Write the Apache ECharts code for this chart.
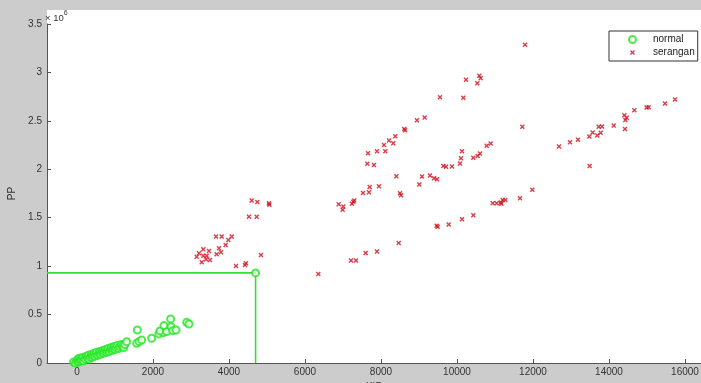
<!DOCTYPE html>
<html>
<head>
<meta charset="utf-8">
<script src="https://cdn.jsdelivr.net/npm/echarts@6/dist/echarts.min.js"></script>
<style>
html,body{margin:0;padding:0;background:#cccccc;}
#chart{width:701px;height:383px;}
</style>
</head>
<body>
<div id="chart"></div>
<script>
// KIP values (x) and PP values (y, in units of 1e6)
const xTicks = [0, 2000, 4000, 6000, 8000, 10000, 12000, 14000, 16000];
const yTicks = [0, 0.5, 1, 1.5, 2, 2.5, 3, 3.5];
const seriesNames = ['normal', 'serangan'];

const normalPoints = [
  [-90,0.01],[-40,0.0],[0,0.02],[20,0.04],[40,0.01],[60,0.05],[80,0.02],[100,0.04],[120,0.03],[150,0.06],
  [170,0.02],[200,0.05],[220,0.04],[250,0.07],[280,0.05],[300,0.08],[320,0.04],[350,0.06],[380,0.09],[400,0.06],
  [420,0.08],[450,0.10],[470,0.07],[500,0.09],[520,0.11],[550,0.08],[580,0.10],[600,0.12],[620,0.09],[650,0.11],
  [680,0.13],[700,0.10],[720,0.12],[750,0.14],[780,0.11],[800,0.13],[820,0.15],[850,0.12],[880,0.14],[900,0.16],
  [930,0.13],[950,0.15],[980,0.17],[1000,0.14],[1030,0.16],[1060,0.18],[1100,0.15],[1130,0.17],[1160,0.19],[1200,0.18],
  [1230,0.16],[1260,0.19],[1307,0.22],[1570,0.203],[1632,0.22],[1702,0.238],[1965,0.255],[1588,0.341],
  [2158,0.30],[2272,0.313],[2184,0.331],[2360,0.324],[2289,0.386],[2474,0.375],[2518,0.334],[2605,0.341],
  [2465,0.455],[2886,0.42],[2947,0.403],[4700,0.93]
];

const seranganPoints = [
  [4597,1.677],[4745,1.663],[5053,1.650],[5060,1.635],[4526,1.511],[4729,1.511],[3658,1.305],[3808,1.305],
  [4071,1.305],[3982,1.271],[3913,1.219],[3737,1.185],[3789,1.144],[3676,1.123],[3324,1.175],[3474,1.157],
  [3211,1.133],[3150,1.098],[3324,1.108],[3413,1.108],[3395,1.071],[3500,1.064],[3282,1.040],[4842,1.116],
  [4184,1.002],[4421,1.012],[4447,1.030],[6350,0.919],
  [10237,2.924],[10587,2.965],[10623,2.941],[10535,2.889],[9553,2.745],[10167,2.738],[8947,2.507],[9149,2.535],
  [8613,2.417],[8632,2.404],[8376,2.342],[8211,2.296],[8324,2.270],[8079,2.252],[7658,2.166],[7895,2.187],
  [8113,2.187],[7640,2.056],[7816,2.045],[8403,1.929],[7702,1.818],[7947,1.825],[7526,1.756],[7684,1.763],
  [7272,1.666],[7298,1.677],[7237,1.643],[6886,1.640],[7009,1.615],[6991,1.581],[8500,1.753],[8526,1.732],
  [9079,1.925],[9008,1.842],[9289,1.935],[9395,1.908],[9474,1.898],[9640,2.035],[9711,2.025],[9868,2.028],
  [10079,2.059],[10105,2.114],[10132,2.187],[10430,2.118],[10544,2.138],[10605,2.162],[10781,2.242],[10886,2.266],
  [9465,1.418],[9492,1.408],[9781,1.429],[10132,1.484],[10430,1.526],[8466,1.240],[7597,1.136],[7895,1.150],
  [7211,1.057],[7342,1.057],[10939,1.650],[11045,1.650],[11150,1.656],[11203,1.684],[11271,1.684],[11166,1.643],
  [11658,1.701],[11789,3.285],[11719,2.438],[11982,1.790],
  [12684,2.235],[12974,2.280],[13184,2.304],[13482,2.338],[13570,2.379],[13693,2.348],[13781,2.376],[13728,2.438],
  [13816,2.441],[13491,2.035],[14123,2.451],[14403,2.559],[14430,2.510],[14465,2.531],[14421,2.417],[14666,2.610],
  [14991,2.637],[15044,2.641],[15474,2.679],[15737,2.720]
];

// threshold box drawn in the reference
const boundaryKIP = 4700;
const boundaryPP = 0.93;

const X_MIN = -789, X_MAX = 16421;

const chart = echarts.init(document.getElementById('chart'), null, {renderer: 'canvas'});
const font = '"Liberation Sans", Arial, Helvetica, sans-serif';
const xMark = 'path://M0,2L2,0L5,3L8,0L10,2L7,5L10,8L8,10L5,7L2,10L0,8L3,5Z';
const xMarkLegend = xMark + 'M-2,-2L-1.99,-2L-2,-1.99ZM12,12L11.99,12L12,11.99Z';

chart.setOption({
  backgroundColor: '#cccccc',
  animation: false,
  textStyle: {fontFamily: font},
  graphic: [
    {type: 'rect', left: 47, top: 10, z: -10, shape: {width: 654, height: 353}, style: {fill: '#ffffff'}, silent: true},
    {type: 'text', left: 45, top: 10, z: 10, style: {
      text: '{a|× 10}{b|6}', fill: '#333',
      rich: {a: {fontSize: 9.5, fontFamily: font, fill: '#333', padding: [3,0,0,0]}, b: {fontSize: 7, fontFamily: font, fill: '#333', verticalAlign: 'top'}}
    }}
  ],
  grid: {left: 47, top: 24, right: 0, bottom: 20, containLabel: false, outerBoundsMode: 'none'},
  legend: {
    left: 609, top: 31, orient: 'vertical',
    padding: [3, 3, 3, 19], itemGap: 2, itemWidth: 7, itemHeight: 7,
    backgroundColor: '#ffffff', borderColor: '#333', borderWidth: 1, borderRadius: 0,
    textStyle: {fontSize: 10, lineHeight: 11, color: '#222', fontFamily: font, padding: [0, 0, 0, 12]},
    data: [
      {name: seriesNames[0], icon: 'emptyCircle'},
      {name: seriesNames[1], icon: xMarkLegend}
    ]
  },
  xAxis: {
    type: 'value', min: X_MIN, max: X_MAX,
    name: 'KIP', nameLocation: 'middle', nameGap: 13,
    nameTextStyle: {fontSize: 10, color: '#333', fontFamily: font},
    axisLine: {show: true, onZero: false, lineStyle: {color: '#555', width: 1}},
    axisTick: {show: true, inside: true, length: 4, customValues: xTicks, lineStyle: {color: '#555'}},
    axisLabel: {show: true, customValues: xTicks, fontSize: 10, color: '#333', margin: 4, fontFamily: font,
      formatter: v => String(v)},
    splitLine: {show: false}
  },
  yAxis: {
    type: 'value', min: 0, max: 3.5, interval: 0.5,
    name: 'PP', nameLocation: 'middle', nameGap: 26, nameRotate: 90,
    nameTextStyle: {fontSize: 10, color: '#333', fontFamily: font},
    axisLine: {show: true, onZero: false, lineStyle: {color: '#555', width: 1}},
    axisTick: {show: true, inside: true, length: 4, lineStyle: {color: '#555'}},
    axisLabel: {fontSize: 10, color: '#333', margin: 5, fontFamily: font,
      formatter: v => yTicks.indexOf(v) >= 0 ? String(v) : ''},
    splitLine: {show: false}
  },
  series: [
    {
      name: seriesNames[0], type: 'scatter', data: normalPoints,
      symbol: 'emptyCircle', symbolSize: 7,
      itemStyle: {color: '#1ee61e', borderColor: '#1ee61e', borderWidth: 1.4},
      z: 3
    },
    {
      name: seriesNames[1], type: 'scatter', data: seranganPoints,
      symbol: xMark, symbolSize: 5,
      itemStyle: {color: '#d0101e'},
      z: 4
    },
    {
      name: 'boundary', type: 'line',
      data: [[X_MIN, boundaryPP], [boundaryKIP, boundaryPP], [boundaryKIP, 0]],
      showSymbol: false, symbol: 'none',
      lineStyle: {color: '#33dd33', width: 1.6},
      z: 2, silent: true
    }
  ]
});
</script>
</body>
</html>
